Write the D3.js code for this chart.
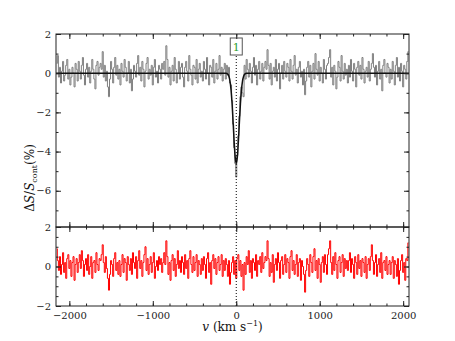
<!DOCTYPE html>
<html><head><meta charset="utf-8">
<script src="https://cdn.jsdelivr.net/npm/d3@7"></script>
<style>body{margin:0;background:#fff}text{font-family:"DejaVu Serif","Liberation Serif",serif}</style>
</head><body>
<script>
// velocity grid: start and channel step (km/s)
const vStart = -2150, vStep = 12.5;
// observed spectrum (grey), %
const specVals = [
0.5,0.9,-0.2,0.3,-0.5,0.1,0.6,-0.4,-0.1,0.4,0.7,-0.3,0.2,-0.6,-0.2,0.3,0.0,-0.7,0.5,0.2,
-0.4,0.6,0.1,-0.3,0.4,0.8,-0.1,-0.6,0.2,0.5,-0.2,0.3,-0.5,0.1,0.7,0.2,-0.3,-0.8,0.4,0.6,
-0.1,0.3,0.5,0.2,1.1,-0.2,0.4,-0.4,0.1,-0.7,-1.2,-0.3,0.6,0.2,-0.5,0.3,0.8,-0.1,0.4,-0.3,
0.2,-0.6,0.5,0.1,-0.2,0.7,0.3,-0.4,0.0,0.6,-0.5,0.2,-0.9,-0.3,0.4,0.1,-0.2,0.5,0.9,-0.1,
0.3,-0.4,0.6,0.2,-0.7,0.1,0.5,0.8,-0.3,0.2,-0.1,0.4,-0.6,0.3,0.7,-0.2,0.1,-0.5,0.4,0.2,
-0.3,0.5,0.2,0.6,-0.1,1.4,0.7,-0.2,0.3,-0.6,0.1,0.4,-0.4,0.8,0.2,-0.5,0.0,0.6,-0.3,0.3,
0.5,-0.2,-0.7,0.3,0.6,0.1,-0.4,0.9,0.2,-0.1,-0.6,0.4,0.3,-0.3,0.7,-0.5,0.2,0.5,-0.2,0.1,
-0.4,0.6,0.2,-0.3,0.8,0.0,-0.6,0.4,0.3,-0.2,0.7,-0.5,0.1,0.5,-0.3,0.2,0.9,-0.1,0.3,-0.4,
0.2,0.5,-0.3,0.4,-0.1,0.3,-0.5,-0.6,-1.4,-2.6,-3.8,-4.6,-5.3,-4.2,-3.2,-2.2,-1.2,-0.7,-1.0,-1.2,
0.4,-0.3,0.7,0.2,-0.2,0.5,0.1,-0.5,0.3,0.8,-0.1,0.4,-0.6,0.2,0.6,-0.3,0.1,0.5,-0.4,0.3,
0.6,0.2,1.2,0.4,-0.3,0.5,-0.6,0.1,0.3,-0.2,0.7,-0.4,0.2,0.5,-0.8,0.0,0.4,-0.3,0.6,0.1,
-0.2,0.5,0.3,-0.4,0.7,0.1,-0.3,0.4,0.9,-0.1,0.2,-0.5,0.3,0.6,-0.2,0.1,-0.6,0.2,-1.1,-0.4,
0.3,0.6,-0.2,0.4,-0.7,0.1,0.5,-0.3,1.0,0.2,-0.1,0.6,-0.4,0.3,0.0,-0.5,0.7,0.2,-0.3,0.4,
0.5,0.8,1.2,-0.2,0.3,-0.6,0.4,0.1,-0.8,-0.2,0.6,0.3,-0.4,0.9,0.1,-0.3,0.5,-0.1,0.2,-0.5,
0.4,-0.2,0.7,0.1,-0.4,0.5,0.2,-0.7,0.3,0.6,-0.1,0.4,-0.3,0.8,0.2,-0.5,0.1,0.3,-0.2,0.6,
-0.4,0.2,0.5,1.0,0.3,-0.2,0.4,-0.6,0.1,0.6,-0.3,0.2,-0.9,0.4,0.7,0.0,-0.2,0.5,0.3,-0.5,
0.2,-0.3,0.6,0.1,-0.6,0.4,0.8,-0.2,0.3,-0.4,0.5,0.1,-0.7,0.4,0.2,-0.3,0.6,1.1];
// residuals (red), %
const residVals = [
0.9,0.3,-0.2,0.5,-0.4,0.1,0.7,-0.3,0.2,-0.6,0.4,0.6,-0.1,0.3,-0.5,0.2,0.5,-0.7,0.1,0.4,
-0.3,0.2,0.6,-0.1,0.8,0.3,-0.5,0.1,0.4,-0.2,0.6,-0.4,0.0,0.5,-0.6,0.2,0.3,-0.3,0.7,0.1,
-0.2,0.4,0.3,0.6,1.1,0.2,-0.3,0.5,-0.1,-0.6,-1.2,-0.4,0.3,0.1,-0.5,0.4,0.7,-0.2,0.2,-0.4,
0.3,-0.5,0.1,0.6,-0.3,0.4,0.2,-0.7,0.5,0.1,-0.2,0.4,-0.4,0.7,0.2,-0.1,0.5,-0.6,0.3,0.8,
-0.1,0.3,-0.5,0.2,0.6,1.0,-0.2,0.4,-0.4,0.1,0.5,-0.3,0.2,0.7,-0.6,0.0,0.3,-0.2,0.5,0.1,
0.4,-0.3,0.2,0.7,0.1,1.3,0.5,-0.4,0.2,-0.7,0.3,0.6,-0.2,0.4,-0.5,0.1,0.8,-0.1,0.3,-0.3,
0.5,0.2,-0.4,0.6,-0.1,0.3,-0.6,0.4,0.8,0.1,-0.3,0.5,-0.2,0.2,0.6,-0.5,0.3,0.1,-0.4,0.4,
-0.2,0.5,0.1,-0.6,0.4,0.7,-0.3,0.2,-0.9,0.3,0.6,-0.1,0.4,-0.4,0.2,0.5,-0.2,0.1,0.6,-0.5,
0.3,-0.2,0.4,0.1,-0.5,0.3,-0.9,-0.3,0.2,0.5,-0.4,0.3,-0.6,0.4,0.6,-0.2,0.3,-0.5,0.1,-1.2,
0.2,-0.4,0.5,0.1,0.8,-0.3,0.3,-0.6,0.4,0.2,-0.2,0.6,-0.5,0.3,0.1,0.5,-0.3,0.7,-0.1,0.2,
0.5,0.3,1.3,0.4,-0.5,0.2,-0.3,0.6,-0.8,0.1,0.4,-0.2,0.7,0.2,-0.6,0.3,0.5,-0.4,0.1,0.6,
-0.3,0.4,0.2,-0.6,0.5,0.8,-0.2,0.3,-0.4,0.1,0.6,-0.5,0.2,0.4,-0.7,0.3,0.0,-0.4,-1.3,-0.2,
0.4,0.1,-0.5,0.6,0.2,-0.3,0.5,0.9,-0.2,0.3,-0.6,0.4,0.1,-0.8,0.2,0.5,-0.3,0.6,0.1,-0.4,
0.6,0.9,1.3,0.2,-0.4,0.5,-0.2,0.7,0.1,-0.6,0.3,0.5,-0.3,0.2,0.6,-0.5,0.4,-0.1,0.3,-0.2,
0.3,0.7,-0.3,0.4,0.1,-0.6,0.5,0.2,-0.4,0.6,-0.1,0.3,-0.5,0.4,0.2,-0.3,0.5,-0.6,0.1,0.4,
-0.2,0.5,1.1,0.3,-0.4,0.2,0.6,-0.5,0.1,0.4,-0.3,0.7,-0.6,0.2,0.3,-0.2,0.5,-0.4,0.1,0.3,
-0.4,0.2,0.5,-0.6,0.3,0.1,-0.5,0.4,-0.9,-0.2,0.3,0.6,-0.3,0.2,-0.7,0.4,0.3,1.2];
// fitted profile (black)
const fitV = [-2160,-125,-100,-87.5,-75,-62.5,-50,-37.5,-25,-12.5,0,12.5,25,37.5,50,62.5,75,87.5,100,125,2070];
const fitY = [0,0,-0.06,-0.17,-0.40,-0.85,-1.56,-2.50,-3.51,-4.30,-4.6,-4.30,-3.51,-2.50,-1.56,-0.85,-0.40,-0.17,-0.06,0,0];
// component marker
const compLabels = ["1"];
const compV = [0];
// ticks
const xMajor = [-2000,-1000,0,1000,2000];
const topYMajor = [2,0,-2,-4,-6];
const botYMajor = [2,0,-2];

const W=455,H=341;
const svg=d3.select("body").append("svg").attr("width",W).attr("height",H);
const L=56,R=409,T1=34,B1=227,T2=227,B2=306;
const x=d3.scaleLinear().domain([-2160,2070]).range([L,R]);
const y1=d3.scaleLinear().domain([-7.85,2]).range([B1,T1]);
const y2=d3.scaleLinear().domain([-2,2]).range([B2,T2]);

const spec=specVals.map((v,i)=>({v:vStart+i*vStep,y:v}));
const resid=residVals.map((v,i)=>({v:vStart+i*vStep,y:v}));
const fit=fitV.map((v,i)=>({v:v,y:fitY[i]}));

svg.append("clipPath").attr("id","c1").append("rect").attr("x",L).attr("y",T1).attr("width",R-L).attr("height",B1-T1);
svg.append("clipPath").attr("id","c2").append("rect").attr("x",L).attr("y",T2).attr("width",R-L).attr("height",B2-T2);

const g1=svg.append("g").attr("clip-path","url(#c1)");
g1.append("path").datum(spec).attr("fill","none").attr("stroke","#7f7f7f").attr("stroke-width",1)
 .attr("d",d3.line().x(d=>x(d.v)).y(d=>y1(d.y)).curve(d3.curveStep));
g1.append("path").datum(fit).attr("fill","none").attr("stroke","#111").attr("stroke-width",1.5)
 .attr("d",d3.line().x(d=>x(d.v)).y(d=>y1(d.y)).curve(d3.curveMonotoneX));

const g2=svg.append("g").attr("clip-path","url(#c2)");
g2.append("path").datum(resid).attr("fill","none").attr("stroke","#ff0000").attr("stroke-width",1)
 .attr("d",d3.line().x(d=>x(d.v)).y(d=>y2(d.y)).curve(d3.curveStep));

// dotted component line
compV.forEach((cv,i)=>{
  svg.append("line").attr("x1",x(cv)).attr("x2",x(cv)).attr("y1",56).attr("y2",B2)
    .attr("stroke","#000").attr("stroke-width",1).attr("stroke-dasharray","1,2");
  svg.append("rect").attr("x",x(cv)-6).attr("y",38).attr("width",12).attr("height",17)
    .attr("fill","#fff").attr("stroke","#555").attr("stroke-width",1);
  svg.append("text").attr("x",x(cv)).attr("y",51).attr("text-anchor","middle")
    .attr("font-size",11).attr("fill","#2ca02c").text(compLabels[i]);
});

// axes
function frameTicks(yScale,top,bot,ymaj,yminStep,ymin,ymax){
  const minorX=d3.range(-2000,2001,200);
  const ax=svg.append("g");
  ax.call(s=>{
    s.append("g").attr("transform",`translate(0,${bot})`).call(d3.axisBottom(x).tickValues(minorX).tickSize(-2.5).tickFormat(""));
    s.append("g").attr("transform",`translate(0,${bot})`).call(d3.axisBottom(x).tickValues(xMajor).tickSize(-5).tickFormat(""));
    s.append("g").attr("transform",`translate(0,${top})`).call(d3.axisTop(x).tickValues(minorX).tickSize(-2.5).tickFormat(""));
    s.append("g").attr("transform",`translate(0,${top})`).call(d3.axisTop(x).tickValues(xMajor).tickSize(-5).tickFormat(""));
    const minorY=d3.range(ymin,ymax+0.001,yminStep);
    s.append("g").attr("transform",`translate(${L},0)`).call(d3.axisLeft(yScale).tickValues(minorY).tickSize(-2.5).tickFormat(""));
    s.append("g").attr("transform",`translate(${L},0)`).call(d3.axisLeft(yScale).tickValues(ymaj).tickSize(-5).tickPadding(5).tickFormat(d=>d3.format("")(d).replace("-","\u2212")));
    s.append("g").attr("transform",`translate(${R},0)`).call(d3.axisRight(yScale).tickValues(minorY).tickSize(-2.5).tickFormat(""));
    s.append("g").attr("transform",`translate(${R},0)`).call(d3.axisRight(yScale).tickValues(ymaj).tickSize(-5).tickFormat(""));
  });
  ax.selectAll(".domain").remove();
  ax.selectAll("line").attr("stroke","#222");
  ax.selectAll("text").attr("font-size",10).attr("fill","#222").style("font-family","'DejaVu Serif',serif");
  svg.append("rect").attr("x",L).attr("y",top).attr("width",R-L).attr("height",bot-top)
    .attr("fill","none").attr("stroke","#222").attr("stroke-width",1);
}
frameTicks(y1,T1,B1,topYMajor,1,-7,2);
frameTicks(y2,T2,B2,botYMajor,0.5,-2,2);

// x tick labels
svg.append("g").attr("transform",`translate(0,${B2})`)
 .call(d3.axisBottom(x).tickValues(xMajor).tickSize(0).tickPadding(6).tickFormat(d=>d3.format("")(d).replace("-","\u2212")))
 .call(g=>g.select(".domain").remove())
 .selectAll("text").attr("font-size",10).attr("fill","#222").style("font-family","'DejaVu Serif',serif");

// axis labels
const xl=svg.append("text").attr("x",(L+R)/2).attr("y",331).attr("text-anchor","middle").attr("font-size",12).attr("fill","#111");
xl.append("tspan").attr("font-style","italic").text("v");
xl.append("tspan").text(" (km s");
xl.append("tspan").attr("dy",-5).attr("font-size",8).text("\u22121");
xl.append("tspan").attr("dy",5).text(")");

const yl=svg.append("text").attr("transform",`translate(34,${(T1+B2)/2+8}) rotate(-90)`).attr("text-anchor","middle").attr("font-size",12).attr("fill","#111");
yl.append("tspan").text("\u0394");
yl.append("tspan").attr("font-style","italic").text("S");
yl.append("tspan").text("/");
yl.append("tspan").attr("font-style","italic").text("S");
yl.append("tspan").attr("dy",3).attr("font-size",8).text("cont");
yl.append("tspan").attr("dy",-3).text("(%)");
</script>
</body></html>
